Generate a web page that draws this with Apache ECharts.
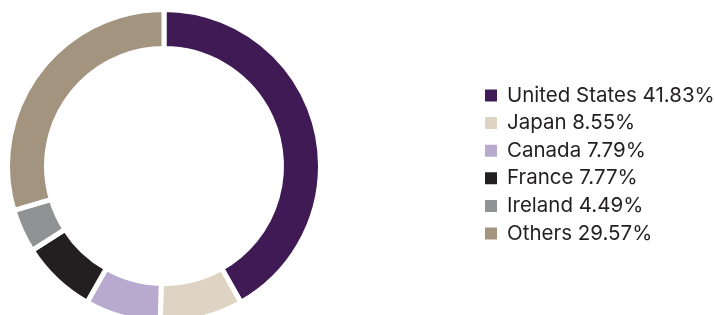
<!DOCTYPE html>
<html>
<head>
<meta charset="utf-8">
<script src="https://cdn.jsdelivr.net/npm/echarts@6/dist/echarts.min.js"></script>
<style>html,body{margin:0;padding:0;background:#fff;}#c{width:715px;height:315px;}</style>
</head>
<body>
<div id="c"></div>
<script>
var categories = ['United States', 'Japan', 'Canada', 'France', 'Ireland', 'Others'];
var values = [41.83, 8.55, 7.79, 7.77, 4.49, 29.57];
var colors = ['#3f1a55', '#dfd3c3', '#b8a9cf', '#231f20', '#909394', '#a39480'];

var chart = echarts.init(document.getElementById('c'), null, {renderer: 'canvas'});
var data = categories.map(function (c, i) {
  return {name: c, value: values[i], itemStyle: {color: colors[i]}};
});
var valueMap = {};
categories.forEach(function (c, i) { valueMap[c] = values[i]; });

chart.setOption({
  animation: false,
  legend: {
    orient: 'vertical',
    left: 478,
    top: 80,
    itemWidth: 14,
    itemHeight: 14,
    itemGap: 6.6,
    icon: 'rect',
    textStyle: {fontFamily: 'Inter', fontSize: 20.5, color: '#231f20', lineHeight: 20, padding: [0, 0, 0, 4]},
    formatter: function (name) { return name + ' ' + valueMap[name].toFixed(2) + '%'; },
    selectedMode: false
  },
  series: [{
    type: 'pie',
    center: [164, 166],
    radius: [117.5, 156.5],
    startAngle: 90,
    clockwise: true,
    label: {show: false},
    labelLine: {show: false},
    itemStyle: {borderColor: '#ffffff', borderWidth: 5},
    emphasis: {disabled: true},
    data: data
  }]
});
</script>
</body>
</html>
